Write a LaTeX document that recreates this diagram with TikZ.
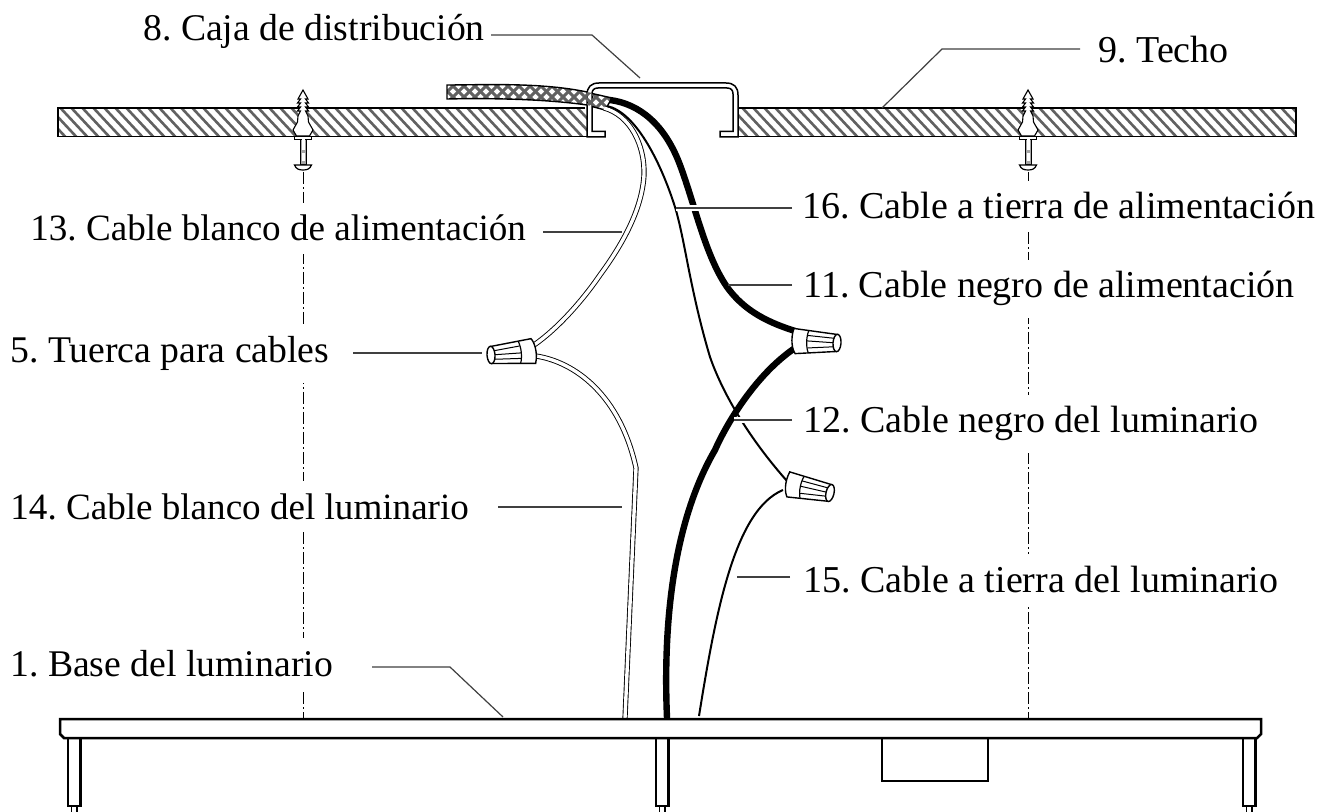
\documentclass[tikz,border=0pt]{standalone}
\usepackage{fontspec}
\setmainfont{Liberation Serif}
\frenchspacing
\tikzset{
  lbl/.style={anchor=base west,font=\fontsize{19}{21}\selectfont,fill=white,inner xsep=1pt,inner ysep=6pt,text=black},
  lbln/.style={lbl,font=\fontsize{18.85}{21}\selectfont},
  lblm/.style={lbl,font=\fontsize{18.55}{21}\selectfont},
  leader/.style={line width=0.6pt,draw=black!75},
  halo/.style={preaction={draw=white,line width=2.6pt}},
  outline/.style={line width=0.9pt,draw=black},
  thin wire/.style={line width=1pt,draw=black},
  thick wire/.style={line width=3.2pt,draw=black},
  white wire/.style={double=white,double distance=1.7pt,line width=0.45pt,draw=black},
  center line/.style={line width=0.4pt,draw=black,dash pattern=on 6pt off 1.5pt on 1pt off 1.5pt},
  hatch/.style={line width=1.3pt,draw=black!62},
  nut/.pic={
    \path[fill=white,draw=black,line width=0.7pt] (0,-8.5) -- (41,-13.5) .. controls (44,-10) and (47,0) .. (44,11.5) -- (0,8.5) -- cycle;
    \draw[line width=0.6pt] (28,-12) .. controls (31,-5) and (31,4) .. (29,10.5);
    \draw[line width=0.5pt] (3,-4) -- (29,-7) (4,0) -- (30,0) (3,4.5) -- (30,5.5);
    \path[fill=white,draw=black,line width=0.7pt] (0,0) ellipse (4 and 8.7);
  },
  anchorbolt/.pic={
    \path[fill=white,draw=black,line width=0.55pt] (0,-18) -- (-5,-9) -- (-2.5,-9) -- (-5.5,-5) -- (-2.5,-5) -- (-5.5,-1) -- (-2.5,-1) -- (-5.5,3) -- (-2.5,3) -- (-5,8) -- (-5.5,14) -- (-10,22) -- (-6.5,28) -- (6.5,28) -- (10,22) -- (5.5,14) -- (5,8) -- (2.5,3) -- (5.5,3) -- (2.5,-1) -- (5.5,-1) -- (2.5,-5) -- (5.5,-5) -- (2.5,-9) -- (5,-9) -- cycle;
    \path[fill=white,draw=black,line width=0.6pt] (-8.5,28.5) rectangle (8.5,31.5);
    \path[fill=black!35,draw=black,line width=0.5pt] (-3,31.5) rectangle (3,57);
    \path[fill=white] (-1.5,31.5) rectangle (1.5,42);
    \path[fill=white] (-1.5,45) rectangle (1.5,53);
    \path[fill=white,draw=black,line width=0.6pt] (-8.5,57) -- (8.5,57) .. controls (7,61) and (4,62) .. (0,62) .. controls (-4,62) and (-7,61) .. (-8.5,57) -- cycle;
  }
}
\begin{document}
\begin{tikzpicture}[x=0.5pt,y=-0.5pt]
\useasboundingbox[fill=white] (0,0) rectangle (1317,812);

% centre lines
\coordinate (cl1a) at (303,172); \coordinate (cl1b) at (303,719);
\coordinate (cl2a) at (1028,172); \coordinate (cl2b) at (1028,719);
\draw[center line] (cl1a) -- (cl1b);
\draw[center line] (cl2a) -- (cl2b);

% ceiling
\begin{scope}
  \clip (58,108) rectangle (587,136.5) (738,108) rectangle (1296,136.5);
  \foreach \x in {20,31,...,1320} \draw[hatch] (\x,100) -- (\x+42,145);
\end{scope}
\draw[outline] (585,108) -- (58,108) -- (58,136.5) -- (587,136.5);
\draw[outline] (738,108) -- (1296,108) -- (1296,136.5) -- (738,136.5);

% wall anchors and screws
\pic at (303,108) {anchorbolt};
\pic at (1028,108) {anchorbolt};

% junction box
\path[fill=white,draw=black,line width=0.75pt]
  (587,137) -- (587,95) .. controls (587,87) and (591,83) .. (599,83)
  -- (726,83) .. controls (734,83) and (738,87) .. (738,95) -- (738,137)
  -- (720,137) -- (720,131.5) -- (733,131.5) -- (733,94)
  .. controls (733,90) and (731,88) .. (727,88) -- (598,88)
  .. controls (594,88) and (592,90) .. (592,94) -- (592,131.5)
  -- (605,131.5) -- (605,137) -- cycle;

% power cable sheath
\begin{scope}
  \clip (447,85) .. controls (480,85) and (540,82) .. (587,92) -- (612,98) -- (605,110) -- (587,105) .. controls (545,99) and (490,98) .. (447,99) -- cycle;
  \foreach \x in {390,401,...,640} {\draw[hatch,line width=1.5pt] (\x,78) -- (\x+38,116);\draw[hatch,line width=1.5pt] (\x+38,78) -- (\x,116);}
\end{scope}
\draw[outline,line width=0.7pt] (587,92) .. controls (540,82) and (480,85) .. (447,85) -- (447,99) .. controls (490,98) and (545,99) .. (587,105);
\draw[outline,line width=0.7pt] (592,93.5) -- (612,98) -- (605,110) -- (592,106.5);

% nut positions
\coordinate (nL) at (491,355);
\coordinate (nR) at (837,343);
\coordinate (nB) at (830,493);

% wires
\coordinate (w14end) at (625,718);
\coordinate (w15end) at (699,716);
\coordinate (w12end) at (667,718);
\draw[white wire] (604,108) .. controls (630,115) and (645,145) .. (644,175) .. controls (642,210) and (622,245) .. (600,275) .. controls (585,297) and (560,327) .. (534,345);
\draw[white wire] (536,356) .. controls (575,362) and (620,395) .. (636,468) -- (w14end);
\draw[thin wire] (607,106) .. controls (635,112) and (660,160) .. (675,207) .. controls (685,240) and (690,290) .. (710,357) .. controls (725,400) and (755,445) .. (787,481);
\draw[thin wire] (w15end) .. controls (716,610) and (735,510) .. (783,490);
\draw[thick wire] (w12end) .. controls (662,600) and (680,510) .. (715,450) .. controls (726,425) and (755,375) .. (795,348);
\draw[thick wire] (610,100) .. controls (640,104) and (665,125) .. (680,165) .. controls (695,205) and (705,255) .. (727,287) .. controls (745,312) and (770,323) .. (795,331);

\pic[rotate=4] at (nL) {nut};
\pic[rotate=176] at (nR) {nut};
\pic[rotate=167] at (nB) {nut};

% base and legs
\foreach \x/\n in {68/a,656/b,1243/c} {
  \draw[line width=1.2pt] (\x,738) -- (\x,806) -- (\x+12.5,806) -- (\x+12.5,738);
  \draw[line width=0.6pt] (\x+3.5,806) -- (\x+3.5,812) (\x+9,806) -- (\x+9,812);
}
\draw[line width=1.2pt] (882,738) -- (882,781) -- (988,781) -- (988,738);
\path[fill=white,draw=black,line width=1.25pt] (60,719) -- (1261,719) -- (1261,734) -- (1257,738) -- (64,738) -- (60,734) -- cycle;

% labels
\node[lbln] (l8) at (141,41) {8. Caja de distribución};
\node[lbl] (l9) at (1096,63) {9. Techo};
\node[lblm] (l13) at (28,241) {13. Cable blanco de alimentación};
\node[lbln] (l5) at (8,363) {5. Tuerca para cables};
\node[lblm] (l14) at (8,519) {14. Cable blanco del luminario};
\node[lbln] (l1) at (8,676) {1. Base del luminario};
\node[lbl] (l16) at (800,219) {16. Cable a tierra de alimentación};
\node[lbl] (l11) at (801,298) {11. Cable negro de alimentación};
\node[lbl] (l12) at (801,433) {12. Cable negro del luminario};
\node[lbl] (l15) at (801,592) {15. Cable a tierra del luminario};

% leaders
\coordinate (a8) at (491,35); \coordinate (b8) at (592,35); \coordinate (c8) at (640,78);
\coordinate (a9) at (1080,49); \coordinate (b9) at (942,49); \coordinate (c9) at (882,108);
\coordinate (a13) at (543,232); \coordinate (c13) at (622,232);
\coordinate (a5) at (353,353); \coordinate (c5) at (482,353);
\coordinate (a14) at (498,507); \coordinate (c14) at (622,507);
\coordinate (a1) at (372,667); \coordinate (b1) at (450,667); \coordinate (c1) at (503,717);
\coordinate (a16) at (792,208); \coordinate (c16) at (676,208);
\coordinate (a11) at (792,285); \coordinate (c11) at (728,285);
\coordinate (a12) at (792,420); \coordinate (c12) at (734,420);
\coordinate (a15) at (790,577); \coordinate (c15) at (737,577);
\draw[leader] (a8) -- (b8) -- (c8);
\draw[leader] (a9) -- (b9) -- (c9);
\draw[leader] (a13) -- (c13);
\draw[leader] (a5) -- (c5);
\draw[leader] (a14) -- (c14);
\draw[leader] (a1) -- (b1) -- (c1);
\draw[leader,halo] (a16) -- (c16);
\draw[leader] (a11) -- (c11);
\draw[leader,halo] (a12) -- (c12);
\draw[leader] (a15) -- (c15);
\end{tikzpicture}
\end{document}
